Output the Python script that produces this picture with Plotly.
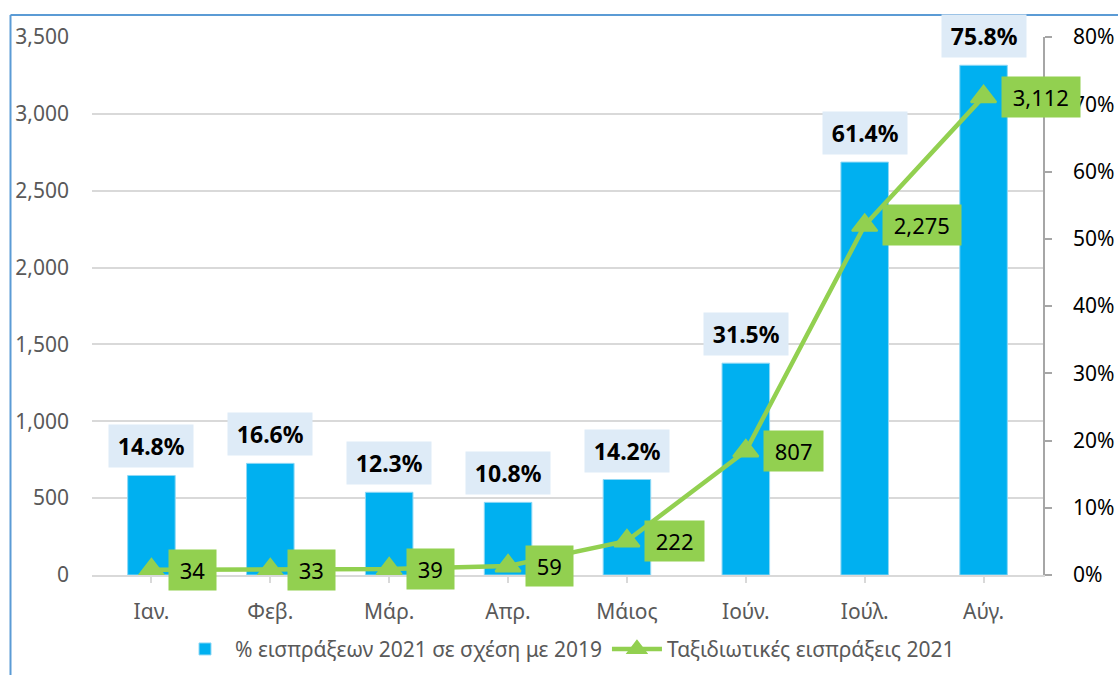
import plotly.graph_objects as go

months = ["Ιαν.", "Φεβ.", "Μάρ.", "Απρ.", "Μάιος", "Ιούν.", "Ιούλ.", "Αύγ."]
pct_vs_2019 = [14.8, 16.6, 12.3, 10.8, 14.2, 31.5, 61.4, 75.8]
receipts_2021 = [34, 33, 39, 59, 222, 807, 2275, 3112]

bar_name = "% εισπράξεων 2021 σε σχέση με 2019"
line_name = "Ταξιδιωτικές εισπράξεις 2021"

FONT = "Noto Sans"
GRAY = "#595959"
BLUE = "#00B0F0"
GREEN = "#92D050"

fig = go.Figure()
fig.add_trace(go.Bar(
    x=months, y=pct_vs_2019, name=bar_name, yaxis="y",
    marker=dict(color=BLUE, line=dict(color="#8FD8F5", width=1)),
    width=0.4,
))
fig.add_trace(go.Scatter(
    x=months, y=receipts_2021, name=line_name, yaxis="y2",
    mode="lines+markers",
    line=dict(color=GREEN, width=4.5),
    marker=dict(symbol="triangle-up", size=22, color=GREEN,
                line=dict(color=GREEN, width=2)),
))

THIN = "\u2009"
NBSP = "\u00a0"
annotations = []
for m, p in zip(months, pct_vs_2019):
    annotations.append(dict(
        x=m, y=p, xref="x", yref="y", text=f"{THIN}<b>{p:.1f}%</b>{THIN}",
        showarrow=False, yanchor="bottom", yshift=7,
        bgcolor="#DEEBF7", borderpad=5,
        font=dict(family=FONT, size=23, color="black"),
    ))
for m, v in zip(months, receipts_2021):
    annotations.append(dict(
        x=m, y=v, xref="x", yref="y2", text=f"{NBSP}{v:,}{NBSP}",
        showarrow=False, xanchor="left", yanchor="middle", xshift=17,
        bgcolor=GREEN, borderpad=5,
        font=dict(family=FONT, size=22, color="black"),
    ))

W, H = 1118, 675
L, T, R, B = 92, 37, 75, 100
pw, ph = W - L - R, H - T - B


def px(xpage):
    return (xpage - L) / pw


def py(ypage):
    return (H - B - ypage) / ph


shapes = [
    dict(type="line", xref="paper", yref="paper",
         x0=px(10.5), x1=px(10.5), y0=py(15), y1=py(690),
         line=dict(color="#5B9BD5", width=2)),
    dict(type="line", xref="paper", yref="paper",
         x0=px(10.5), x1=px(1130), y0=py(15), y1=py(15),
         line=dict(color="#5B9BD5", width=2)),
]

fig.update_layout(
    width=W, height=H,
    margin=dict(l=L, r=R, t=T, b=B, autoexpand=False),
    paper_bgcolor="white", plot_bgcolor="white",
    font=dict(family=FONT, color=GRAY),
    showlegend=True,
    legend=dict(orientation="h", x=0.5, xanchor="center", y=-0.1,
                yanchor="top", font=dict(family=FONT, size=21, color=GRAY),
                itemwidth=50),
    annotations=annotations,
    shapes=shapes,
    xaxis=dict(
        type="category", range=[-0.5, len(months) - 0.5],
        showline=True, linecolor="#D9D9D9", linewidth=1.5,
        ticks="outside", ticklen=6, tickcolor="#D9D9D9", tickwidth=1.5,
        tickfont=dict(family=FONT, size=21, color=GRAY),
        ticklabelstandoff=11, showgrid=False, automargin=False,
    ),
    yaxis=dict(
        side="right", range=[0, 80], dtick=10, ticksuffix="%",
        showgrid=False, zeroline=False,
        showline=True, linecolor="#A6A6A6", linewidth=1.5,
        ticks="outside", ticklen=7, tickcolor="#A6A6A6", tickwidth=1.5,
        tickfont=dict(family=FONT, size=21, color="black"),
        ticklabelstandoff=17, automargin=False,
    ),
    yaxis2=dict(
        overlaying="y", side="left", anchor="x", range=[0, 3500], dtick=500,
        tickformat=",d", showgrid=True, gridcolor="#D9D9D9", gridwidth=1.5,
        zeroline=False, showline=False, ticks="",
        tickfont=dict(family=FONT, size=21, color=GRAY),
        ticklabelstandoff=22, automargin=False,
    ),
)

fig.write_html(
    "out.html",
    config={"displayModeBar": False},
    post_script="document.body.style.margin='0';"
                "document.body.style.overflow='hidden';",
)
